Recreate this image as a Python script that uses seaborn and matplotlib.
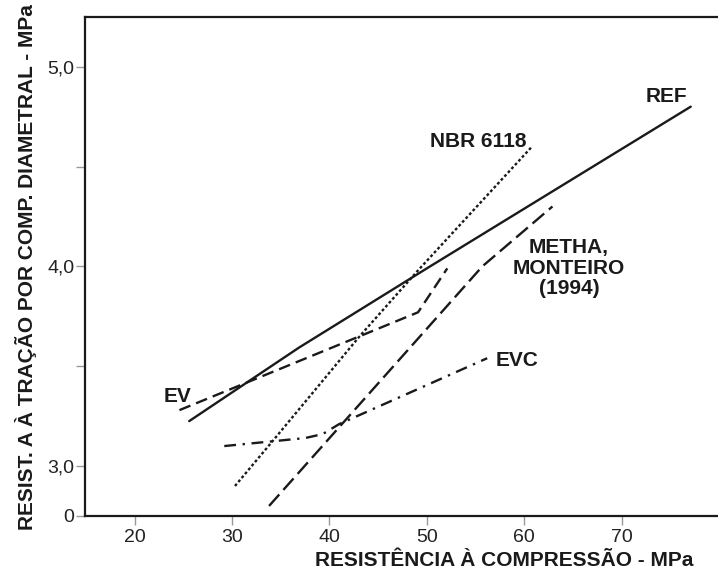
import matplotlib
matplotlib.use("Agg")
import matplotlib.pyplot as plt
import seaborn as sns

# data (compressive strength MPa -> splitting tensile strength MPa)
ref_x = [25.6, 36.9, 50.0, 77.1]
ref_y = [3.225, 3.594, 3.99, 4.80]

nbr_x = [30.3, 34.2, 43.1, 49.1, 60.8]
nbr_y = [2.90, 3.127, 3.65, 3.98, 4.60]

metha_x = [33.8, 55.7, 62.9]
metha_y = [2.80, 4.00, 4.30]

ev_x = [24.6, 49.1, 52.1]
ev_y = [3.28, 3.77, 3.99]

evc_x = [29.2, 37.5, 39.3, 41.0, 56.2]
evc_y = [3.10, 3.14, 3.16, 3.21, 3.54]

x_ticks = [20, 30, 40, 50, 60, 70]
y_ticks = [2.75, 3.0, 3.5, 4.0, 4.5, 5.0]
y_ticklabels = ["0", "3,0", "", "4,0", "", "5,0"]

sns.set_theme(style="white")
plt.rcParams["font.family"] = ["DejaVu Sans Condensed", "Liberation Sans"]

fig = plt.figure(figsize=(7.18, 5.81), dpi=100)
ax = fig.add_axes([0.1184, 0.112, 0.8816, 0.858])

ink = "#1a1a1a"
sns.lineplot(x=ref_x, y=ref_y, ax=ax, color=ink, linewidth=1.7, estimator=None, sort=False)
sns.lineplot(x=nbr_x, y=nbr_y, ax=ax, color=ink, linewidth=1.7, estimator=None, sort=False,
             linestyle=(0, (1.2, 1.0)))
sns.lineplot(x=metha_x, y=metha_y, ax=ax, color=ink, linewidth=1.7, estimator=None, sort=False,
             linestyle=(0, (6.5, 2.6)))
sns.lineplot(x=ev_x, y=ev_y, ax=ax, color=ink, linewidth=1.7, estimator=None, sort=False,
             linestyle=(0, (5.0, 2.6)))
sns.lineplot(x=evc_x, y=evc_y, ax=ax, color=ink, linewidth=1.7, estimator=None, sort=False,
             linestyle=(0, (5.0, 2.8, 1.0, 2.8)))

lab = dict(fontsize=15, fontweight="bold", color=ink)
ax.text(74.6, 4.8235, "REF", ha="center", va="baseline", **lab)
ax.text(55.3, 4.5985, "NBR 6118", ha="center", va="baseline", **lab)
ax.text(64.6, 3.99, "METHA,\nMONTEIRO\n(1994)", ha="center", va="center",
        multialignment="center", linespacing=1.1, **lab)
ax.text(59.3, 3.5035, "EVC", ha="center", va="baseline", **lab)
ax.text(24.4, 3.32, "EV", ha="center", va="baseline", **lab)

ax.set_xlim(14.9, 79.9)
ax.set_ylim(2.75, 5.247)
ax.set_xticks(x_ticks)
ax.set_xticklabels([str(t) for t in x_ticks])
ax.set_yticks(y_ticks)
ax.set_yticklabels(y_ticklabels)
ax.tick_params(axis="both", which="major", labelsize=14, length=6.5, width=1,
               color="#999999", labelcolor="#222222", direction="out",
               left=True, bottom=True)
ax.tick_params(axis="y", pad=1)
ax.tick_params(axis="x", pad=3)

for side in ["left", "bottom", "top"]:
    ax.spines[side].set_visible(True)
    ax.spines[side].set_color(ink)
    ax.spines[side].set_linewidth(1.6)
ax.spines["right"].set_visible(False)

ax.set_xlabel("RESISTÊNCIA À COMPRESSÃO - MPa", fontsize=15, fontweight="bold", color=ink)
ax.xaxis.set_label_coords(0.662, -0.07)
ax.set_ylabel("RESIST. A À TRAÇÃO POR COMP. DIAMETRAL - MPa", fontsize=15,
              fontweight="bold", color=ink)
ax.yaxis.set_label_coords(-0.076, 0.5)

fig.savefig("out.png", dpi=100)
